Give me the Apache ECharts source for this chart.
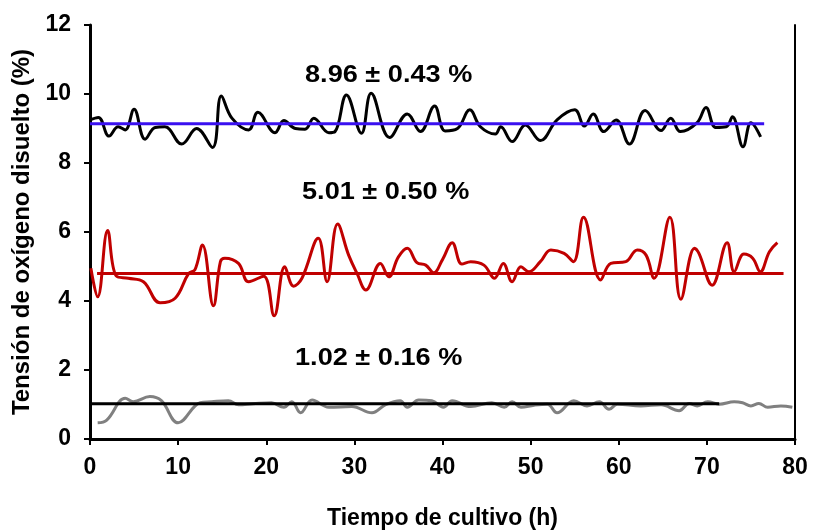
<!DOCTYPE html>
<html><head><meta charset="utf-8">
<script src="https://cdn.jsdelivr.net/npm/echarts@6/dist/echarts.min.js"></script>
<style>html,body{margin:0;padding:0;background:#fff}#c{width:814px;height:531px}</style>
</head><body><div id="c"></div>
<script>
const xTicks = [0,10,20,30,40,50,60,70,80];
const yTicks = [0,2,4,6,8,10,12];
const blackSeries = [[0,9.25],[0.95,9.32],[2.16,8.78],[3.2,9.05],[4.0,8.96],[5.0,9.56],[6.25,8.69],[7.4,9.03],[8.5,9.05],[10.4,8.55],[12.1,9.0],[13.9,8.45],[14.9,9.94],[16.1,9.3],[18.0,8.96],[19.05,9.47],[21.0,8.88],[22.0,9.23],[23.3,9.0],[24.4,8.98],[25.4,9.3],[27.1,8.88],[27.8,8.91],[29.1,9.97],[30.8,8.86],[31.9,10.02],[34.0,8.74],[36.0,9.42],[37.5,8.91],[39.1,9.65],[40.3,8.93],[41.7,9.0],[43.1,9.54],[44.3,9.05],[46.0,8.84],[46.6,9.05],[47.9,8.62],[49.4,9.1],[51.1,8.65],[53.0,9.25],[55.0,9.54],[56.1,9.07],[57.1,9.42],[58.3,8.91],[59.7,9.25],[61.2,8.55],[63.0,9.52],[64.8,8.94],[65.9,9.3],[67.0,8.91],[68.9,9.17],[69.9,9.61],[71.0,9.03],[72.2,9.05],[72.9,9.34],[74.1,8.47],[75.0,9.17],[76.1,8.76]];
const redSeries = [[0.1,4.95],[0.87,4.12],[2.0,6.04],[3.0,4.72],[4.35,4.66],[6.06,4.56],[7.95,3.95],[9.66,4.08],[11.2,4.8],[11.9,4.9],[12.76,5.62],[14.0,3.86],[14.8,5.14],[15.3,5.24],[16.85,5.09],[18.0,4.56],[19.7,4.72],[20.9,3.57],[22.1,4.99],[23.1,4.43],[24.05,4.66],[25.9,5.82],[26.9,4.56],[28.1,6.23],[29.35,5.33],[30.3,4.8],[31.3,4.32],[32.95,5.09],[33.9,4.7],[35.0,5.28],[36.0,5.53],[37.1,5.11],[38.1,5.04],[39.0,4.82],[40.0,5.2],[41.1,5.69],[42.2,5.07],[43.2,5.14],[44.7,5.04],[45.9,4.66],[46.9,5.09],[47.9,4.56],[48.9,4.99],[49.8,4.85],[51.1,5.14],[52.3,5.48],[53.8,5.38],[54.85,5.14],[56.0,6.43],[57.95,4.61],[59.1,5.09],[60.8,5.14],[62.1,5.48],[63.1,5.33],[64.0,4.66],[65.8,6.43],[67.05,4.05],[68.6,5.53],[69.1,5.38],[70.6,4.46],[72.3,5.69],[73.1,4.85],[74.2,5.36],[75.2,5.24],[76.06,4.85],[77.1,5.43],[78.0,5.69]];
const graySeries = [[0.87,0.47],[1.9,0.55],[4.0,1.18],[4.9,1.08],[6.8,1.23],[8.1,1.11],[10.0,0.47],[12.5,1.05],[13.8,1.08],[15.7,1.11],[16.85,0.99],[18.5,1.02],[20.6,1.05],[22.0,0.92],[22.9,1.08],[23.9,0.76],[25.2,1.13],[27.1,0.92],[29.7,0.94],[32.0,0.76],[33.5,0.99],[35.2,1.11],[36.0,0.92],[37.3,1.13],[38.8,1.11],[40.1,0.92],[41.1,1.11],[43.2,0.94],[45.6,1.05],[47.0,0.92],[47.9,1.08],[48.9,0.92],[50.4,0.98],[51.9,1.01],[53.0,0.76],[54.9,1.11],[56.4,0.96],[57.8,1.08],[58.9,0.86],[59.85,1.01],[62.5,0.96],[64.8,0.99],[66.85,0.82],[68.0,1.03],[68.9,0.96],[70.1,1.08],[71.4,1.01],[73.1,1.08],[74.05,1.05],[75.0,0.96],[75.9,1.03],[76.9,0.92],[78.4,0.96],[79.7,0.92]];
const blueMean = [[0,9.14],[76.5,9.14]];
const redMean = [[0.8,4.8],[78.7,4.8]];
const blackMean = [[0,1.02],[71.4,1.02]];
const labels = ['8.96 ± 0.43 %','5.01 ± 0.50 %','1.02 ± 0.16 %'];
const xTitle = 'Tiempo de cultivo (h)';
const yTitle = 'Tensión de oxígeno disuelto (%)';

const FONT = '"Liberation Sans", Arial, sans-serif';
const chart = echarts.init(document.getElementById('c'));
function ln(data, color, width, smooth, z) {
  return {type:'line', data, symbol:'none', smooth, lineStyle:{color, width}, itemStyle:{color}, z, animation:false};
}
function note(text, x, y) {
  return {type:'text', x, y, scaleX:1.18, style:{text, font:'bold 23px '+FONT, fill:'#000', verticalAlign:'middle', textVerticalAlign:'middle'}};
}
chart.setOption({
  animation:false,
  backgroundColor:'#fff',
  grid:{left:90, right:19, top:25, bottom:92, containLabel:false, outerBoundsMode:'none'},
  xAxis:{type:'value', min:0, max:80, interval:10,
    name:xTitle, nameLocation:'middle', nameGap:68,
    nameTextStyle:{fontFamily:FONT, fontWeight:'bold', fontSize:23, color:'#000'},
    axisLine:{lineStyle:{color:'#000', width:3}}, axisTick:{length:6, lineStyle:{color:'#000', width:2}},
    axisLabel:{fontFamily:FONT, fontWeight:'bold', fontSize:23, color:'#000', margin:17},
    splitLine:{show:false}},
  yAxis:[{type:'value', min:0, max:12, interval:2,
    name:yTitle, nameLocation:'middle', nameGap:56, nameRotate:90,
    nameTextStyle:{fontFamily:FONT, fontWeight:'bold', fontSize:24, color:'#000'},
    axisLine:{show:true, lineStyle:{color:'#000', width:3}}, axisTick:{show:true, length:6, lineStyle:{color:'#000', width:2}},
    axisLabel:{fontFamily:FONT, fontWeight:'bold', fontSize:23, color:'#000', margin:19},
    splitLine:{show:false}},
   {type:'value', min:0, max:12, interval:2, position:'right',
    axisLine:{show:true, lineStyle:{color:'#000', width:2}}, axisTick:{show:false}, axisLabel:{show:false}, splitLine:{show:false}}],
  series:[
    ln(graySeries,'#808080',3,0.4,2),
    ln(redSeries,'#C00000',3,0.4,2),
    ln(blackSeries,'#000000',3,0.4,2),
    ln(blueMean,'#3a10f0',3,false,3),
    ln(redMean,'#C00000',3,false,3),
    ln(blackMean,'#000000',3,false,3)
  ],
  graphic:[
    note(labels[0], 305, 76),
    note(labels[1], 302, 193),
    note(labels[2], 295, 359)
  ]
});
</script></body></html>
